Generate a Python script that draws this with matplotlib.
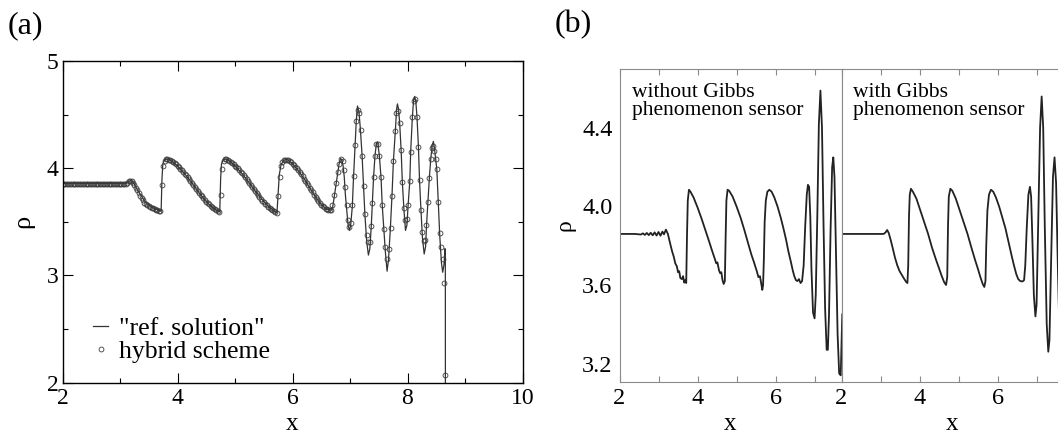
import numpy as np
import matplotlib
matplotlib.use('Agg')
import matplotlib.pyplot as plt
from matplotlib.ticker import MultipleLocator, FixedLocator, FormatStrFormatter

plt.rcParams['font.family'] = ['Liberation Serif', 'DejaVu Serif']

##################
# (a) reference solution (line) and hybrid scheme (circles)
##################

ref_x = [2.0, 3.1, 3.15, 3.19, 3.23, 3.3, 3.36, 3.42, 3.48, 3.55,
         3.62, 3.70, 3.715, 3.73, 3.745, 3.77, 3.80, 3.85, 3.9, 4.0,
         4.1, 4.2, 4.3, 4.4, 4.5, 4.6, 4.7, 4.735, 4.75, 4.765,
         4.79, 4.82, 4.87, 4.9, 5.0, 5.1, 5.2, 5.3, 5.4, 5.5,
         5.6, 5.7, 5.73, 5.75, 5.77, 5.80, 5.84, 5.88, 5.92, 5.96,
         6.0, 6.1, 6.2, 6.3, 6.4, 6.5, 6.6, 6.68, 6.70, 6.73,
         6.76, 6.79, 6.81, 6.835, 6.86, 6.88, 6.90, 6.92, 6.945, 6.965,
         6.99, 7.01, 7.04, 7.06, 7.09, 7.11, 7.13, 7.155, 7.18, 7.21,
         7.235, 7.26, 7.29, 7.32, 7.345, 7.37, 7.39, 7.41, 7.435, 7.46,
         7.48, 7.51, 7.54, 7.56, 7.59, 7.615, 7.645, 7.67, 7.70, 7.73,
         7.755, 7.79, 7.81, 7.825, 7.845, 7.865, 7.89, 7.91, 7.94, 7.965,
         7.99, 8.01, 8.04, 8.055, 8.085, 8.105, 8.125, 8.145, 8.165, 8.19,
         8.21, 8.235, 8.26, 8.29, 8.315, 8.33, 8.355, 8.38, 8.405, 8.43,
         8.45, 8.47, 8.51, 8.535, 8.56, 8.59, 8.612, 8.635, 8.652, 8.658,
         8.66]
ref_y = [3.857, 3.857, 3.875, 3.886, 3.87, 3.80, 3.75, 3.70, 3.665, 3.64,
         3.62, 3.602, 3.598, 3.9, 4.04, 4.075, 4.087, 4.085, 4.067, 4.022,
         3.965, 3.898, 3.826, 3.754, 3.689, 3.638, 3.60, 3.593, 3.9, 4.04,
         4.075, 4.087, 4.083, 4.07, 4.022, 3.965, 3.898, 3.826, 3.754, 3.689,
         3.635, 3.595, 3.585, 3.76, 3.94, 4.03, 4.07, 4.082, 4.078, 4.06,
         4.043, 3.98, 3.903, 3.818, 3.734, 3.66, 3.617, 3.61, 3.64, 3.75,
         3.86, 3.965, 4.04, 4.09, 4.08, 4.02, 3.92, 3.75, 3.60, 3.48,
         3.42, 3.46, 3.64, 3.90, 4.22, 4.45, 4.58, 4.53, 4.37, 4.12,
         3.83, 3.56, 3.32, 3.19, 3.25, 3.46, 3.68, 3.92, 4.12, 4.235,
         4.245, 4.12, 3.91, 3.66, 3.42, 3.22, 3.04, 3.15, 3.42, 3.74,
         4.07, 4.36, 4.55, 4.60, 4.55, 4.41, 4.16, 3.87, 3.60, 3.42,
         3.47, 3.65, 3.88, 4.15, 4.48, 4.63, 4.67, 4.62, 4.48, 4.20,
         3.88, 3.60, 3.35, 3.20, 3.27, 3.46, 3.69, 3.91, 4.09, 4.215,
         4.25, 4.18, 3.99, 3.68, 3.38, 3.12, 3.03, 3.10, 3.25, 3.22,
         1.0]

# hybrid scheme, smooth part: cells of width 0.025 from x = 2
hyb_x = np.round(2.0 + 0.025 * np.arange(188), 3)
hyb_y = ([3.857] * 45 +
         [3.865, 3.878, 3.885, 3.880, 3.865, 3.845, 3.820, 3.795, 3.770, 3.745,
          3.720, 3.700, 3.680, 3.665, 3.655, 3.645, 3.638, 3.632, 3.626, 3.620,
          3.615, 3.610, 3.605, 3.600] +
         [3.840, 4.020, 4.070, 4.085, 4.085, 4.080, 4.075, 4.065] +
         [4.055, 4.045, 4.035, 4.022, 4.010, 3.995, 3.980, 3.965, 3.950, 3.933,
          3.916, 3.898, 3.880, 3.862, 3.844, 3.826, 3.808, 3.790, 3.772, 3.754,
          3.737, 3.720, 3.704, 3.689, 3.675, 3.662, 3.650, 3.638, 3.627, 3.617,
          3.608, 3.600] +
         [3.595, 3.750, 3.990, 4.070, 4.085, 4.085, 4.080, 4.070] +
         [4.058, 4.048, 4.037, 4.025, 4.012, 3.998, 3.983, 3.967, 3.951, 3.934,
          3.916, 3.898, 3.879, 3.860, 3.841, 3.822, 3.803, 3.784, 3.765, 3.747,
          3.729, 3.712, 3.696, 3.681, 3.667, 3.654, 3.642, 3.631, 3.621, 3.611,
          3.602, 3.595] +
         [3.585, 3.740, 3.920, 4.020, 4.060, 4.075, 4.080, 4.080, 4.075, 4.065] +
         [4.055, 4.043, 4.030, 4.015, 3.998, 3.980, 3.962, 3.943, 3.923, 3.903,
          3.882, 3.861, 3.840, 3.818, 3.796, 3.775, 3.754, 3.734, 3.714, 3.695,
          3.677, 3.660, 3.646, 3.634, 3.624, 3.617, 3.612, 3.610, 3.610])

# hybrid scheme, oscillating part
osc_x = [6.694, 6.729, 6.758, 6.787, 6.811, 6.840, 6.875, 6.904, 6.915, 6.944,
         6.962, 6.985, 7.014, 7.043, 7.061, 7.090, 7.107, 7.131, 7.160, 7.183,
         7.212, 7.235, 7.264, 7.288, 7.317, 7.346, 7.369, 7.387, 7.410, 7.433,
         7.456, 7.486, 7.509, 7.538, 7.561, 7.590, 7.613, 7.648, 7.677, 7.706,
         7.730, 7.753, 7.788, 7.805, 7.829, 7.864, 7.887, 7.910, 7.939, 7.962,
         7.992, 8.009, 8.038, 8.056, 8.085, 8.108, 8.137, 8.166, 8.189, 8.213,
         8.236, 8.259, 8.288, 8.312, 8.329, 8.352, 8.381, 8.405, 8.428, 8.451,
         8.469, 8.490, 8.509, 8.533, 8.562, 8.585, 8.614, 8.631, 8.650]
osc_y = [3.660, 3.755, 3.862, 3.963, 4.040, 4.086, 4.071, 3.985, 3.822, 3.656,
         3.518, 3.448, 3.485, 3.656, 3.923, 4.221, 4.445, 4.543, 4.515, 4.359,
         4.117, 3.831, 3.571, 3.380, 3.310, 3.316, 3.463, 3.678, 3.917, 4.113,
         4.224, 4.230, 4.113, 3.917, 3.656, 3.433, 3.270, 3.156, 3.248, 3.442,
         3.739, 4.067, 4.344, 4.512, 4.531, 4.420, 4.169, 3.871, 3.632, 3.515,
         3.531, 3.656, 3.877, 4.147, 4.482, 4.623, 4.644, 4.482, 4.199, 3.887,
         3.610, 3.408, 3.325, 3.334, 3.469, 3.684, 3.908, 4.086, 4.193, 4.206,
         4.163, 4.090, 3.991, 3.684, 3.396, 3.264, 3.156, 2.933, 2.070]

##################
# (b) without / with Gibbs phenomenon sensor
##################

nosens_x = [2.0, 2.4, 2.55, 2.6, 2.65, 2.7, 2.75, 2.8, 2.85, 2.9,
            2.95, 3.0, 3.05, 3.1, 3.14, 3.19, 3.24, 3.3, 3.35, 3.39,
            3.43, 3.47, 3.5, 3.53, 3.56, 3.6, 3.63, 3.66, 3.69, 3.71,
            3.73, 3.75, 3.78, 3.82, 3.9, 4.0, 4.1, 4.2, 4.3, 4.38,
            4.44, 4.48, 4.51, 4.55, 4.58, 4.61, 4.64, 4.67, 4.7, 4.72,
            4.74, 4.77, 4.81, 4.9, 5.0, 5.1, 5.2, 5.3, 5.38, 5.44,
            5.48, 5.52, 5.56, 5.6, 5.63, 5.66, 5.68, 5.7, 5.72, 5.75,
            5.79, 5.84, 5.9, 5.97, 6.05, 6.13, 6.2, 6.27, 6.33, 6.39,
            6.44, 6.48, 6.52, 6.56, 6.6, 6.64, 6.68, 6.72, 6.76, 6.8,
            6.83, 6.86, 6.89, 6.92, 6.96, 7.0, 7.03, 7.07, 7.11, 7.15,
            7.19, 7.23, 7.27, 7.31, 7.34, 7.37, 7.41, 7.45, 7.48, 7.51,
            7.55, 7.59, 7.63, 7.67, 7.71]
nosens_y = [3.86, 3.86, 3.857, 3.863, 3.855, 3.865, 3.854, 3.866, 3.853, 3.868,
            3.852, 3.87, 3.851, 3.872, 3.858, 3.882, 3.86, 3.81, 3.77, 3.745,
            3.71, 3.695, 3.665, 3.67, 3.635, 3.63, 3.645, 3.612, 3.625, 3.61,
            3.85, 4.03, 4.085, 4.075, 4.045, 3.995, 3.94, 3.88, 3.82, 3.77,
            3.735, 3.71, 3.715, 3.675, 3.66, 3.665, 3.625, 3.605, 3.62, 3.84,
            4.03, 4.085, 4.08, 4.05, 4.0, 3.945, 3.88, 3.81, 3.755, 3.72,
            3.695, 3.67, 3.64, 3.645, 3.61, 3.575, 3.6, 3.73, 3.92, 4.03,
            4.075, 4.085, 4.075, 4.045, 4.0, 3.945, 3.89, 3.83, 3.77, 3.72,
            3.675, 3.645, 3.625, 3.62, 3.63, 3.61, 3.62, 3.7, 3.9, 4.06,
            4.11, 4.10, 3.95, 3.68, 3.46, 3.43, 3.55, 3.95, 4.42, 4.59,
            4.40, 3.90, 3.48, 3.27, 3.27, 3.45, 3.88, 4.20, 4.25, 4.15,
            3.75, 3.35, 3.15, 3.14, 3.45]

sens_x = [2.0, 3.08, 3.13, 3.17, 3.21, 3.26, 3.31, 3.37, 3.43, 3.49,
          3.55, 3.61, 3.66, 3.69, 3.71, 3.73, 3.75, 3.78, 3.83, 3.92,
          4.02, 4.12, 4.22, 4.32, 4.42, 4.5, 4.57, 4.63, 4.68, 4.71,
          4.73, 4.75, 4.79, 4.84, 4.93, 5.03, 5.13, 5.23, 5.33, 5.42,
          5.5, 5.56, 5.62, 5.66, 5.69, 5.71, 5.74, 5.78, 5.83, 5.89,
          5.96, 6.04, 6.12, 6.2, 6.28, 6.36, 6.42, 6.48, 6.53, 6.58,
          6.64, 6.68, 6.71, 6.75, 6.79, 6.83, 6.86, 6.89, 6.93, 6.97,
          7.0, 7.04, 7.09, 7.13, 7.17, 7.21, 7.26, 7.30, 7.33, 7.37,
          7.42, 7.46, 7.50, 7.55, 7.60, 7.64, 7.68, 7.71]
sens_y = [3.86, 3.86, 3.868, 3.88, 3.865, 3.83, 3.79, 3.74, 3.70, 3.67,
          3.65, 3.63, 3.615, 3.61, 3.70, 3.95, 4.06, 4.09, 4.075, 4.04,
          3.98, 3.92, 3.86, 3.79, 3.73, 3.685, 3.645, 3.615, 3.60, 3.64,
          3.90, 4.05, 4.09, 4.08, 4.04, 3.98, 3.92, 3.86, 3.79, 3.73,
          3.68, 3.64, 3.605, 3.59, 3.62, 3.80, 3.98, 4.06, 4.085, 4.075,
          4.045, 4.0, 3.945, 3.89, 3.82, 3.75, 3.70, 3.655, 3.63, 3.62,
          3.618, 3.625, 3.70, 3.90, 4.06, 4.10, 4.05, 3.85, 3.55, 3.44,
          3.50, 3.90, 4.40, 4.56, 4.40, 3.90, 3.40, 3.26, 3.32, 3.70,
          4.15, 4.25, 4.12, 3.65, 3.25, 3.14, 3.30, 3.50]

b_yticks = [3.2, 3.6, 4.0, 4.4]
b_notes = ['without Gibbs\nphenomenon sensor', 'with Gibbs\nphenomenon sensor']

W, H = 1058, 433
fig = plt.figure(figsize=(W / 100, H / 100), dpi=100)

# ---- panel (a)
ax = fig.add_axes([62.5 / W, 1 - 382.7 / H, 460 / W, 321.7 / H])
ax.plot(ref_x, ref_y, color='#333333', lw=0.9, label='"ref. solution"')
ax.plot(np.concatenate([hyb_x, osc_x]), hyb_y + osc_y, ls='none', marker='o',
        ms=3.5, mfc='none', mec='#3a3a3a', mew=0.6, label='hybrid scheme')
ax.set_xlim(2, 10)
ax.set_ylim(2, 5)
ax.xaxis.set_major_locator(MultipleLocator(2))
ax.xaxis.set_minor_locator(MultipleLocator(1))
ax.yaxis.set_major_locator(MultipleLocator(1))
ax.yaxis.set_minor_locator(MultipleLocator(0.5))
ax.tick_params(which='both', direction='in', top=True, right=True,
               labelsize=17, width=0.8)
ax.tick_params(which='major', length=7)
ax.tick_params(which='minor', length=3.5)
ax.tick_params(axis='x', pad=4)
ax.tick_params(axis='y', pad=3)
for s in ax.spines.values():
    s.set_linewidth(1.0)
ax.set_xlabel('x', fontsize=18)
ax.xaxis.set_label_coords(0.5, -0.147)
ax.xaxis.label.set_va('baseline')
ax.set_ylabel('ρ', fontsize=19)
ax.yaxis.set_label_coords(-0.086, 0.5)
ax.yaxis.label.set_va('center')
ax.legend(loc='lower left', bbox_to_anchor=(0.066, 0.06), frameon=False,
          fontsize=18.5, handlelength=0.6, handletextpad=0.4, borderpad=0,
          borderaxespad=0, labelspacing=0.0)
fig.text(8 / W, 1 - 26 / H, '(a)', fontsize=23, va='center', ha='left')

# ---- panel (b)
gray = '#8a8a8a'
axb = []
for i, (bx, by) in enumerate([(nosens_x, nosens_y), (sens_x, sens_y)]):
    a = fig.add_axes([(619.5 + 222 * i) / W, 1 - 382 / H, 222 / W, 313 / H])
    a.plot(bx, by, color='#222222', lw=1.3)
    a.set_xlim(2, 7.69)
    a.set_ylim(3.106, 4.70)
    a.xaxis.set_major_locator(FixedLocator([2, 4, 6]))
    a.xaxis.set_minor_locator(MultipleLocator(1))
    a.yaxis.set_major_locator(FixedLocator(b_yticks))
    a.yaxis.set_major_formatter(FormatStrFormatter('%.1f'))
    a.tick_params(which='both', direction='in', top=True, color=gray,
                  length=4.5, width=0.8, labelsize=17.5, pad=4)
    a.tick_params(axis='y', length=0, labelleft=(i == 0), pad=5)
    for s in a.spines.values():
        s.set_color(gray)
        s.set_linewidth(0.8)
    a.set_xlabel('x', fontsize=18)
    a.xaxis.set_label_coords(0.5, -0.153)
    a.xaxis.label.set_va('baseline')
    a.text(0.055 if i == 0 else 0.05, 0.955, b_notes[i], transform=a.transAxes,
           fontsize=15.5, va='top', ha='left', linespacing=0.95)
    axb.append(a)
axb[0].set_ylabel('ρ', fontsize=17)
axb[0].yaxis.set_label_coords(-0.244, 0.5)
axb[0].yaxis.label.set_va('center')
fig.text(555 / W, 1 - 25 / H, '(b)', fontsize=23, va='center', ha='left')

fig.savefig('out.png', dpi=100)
